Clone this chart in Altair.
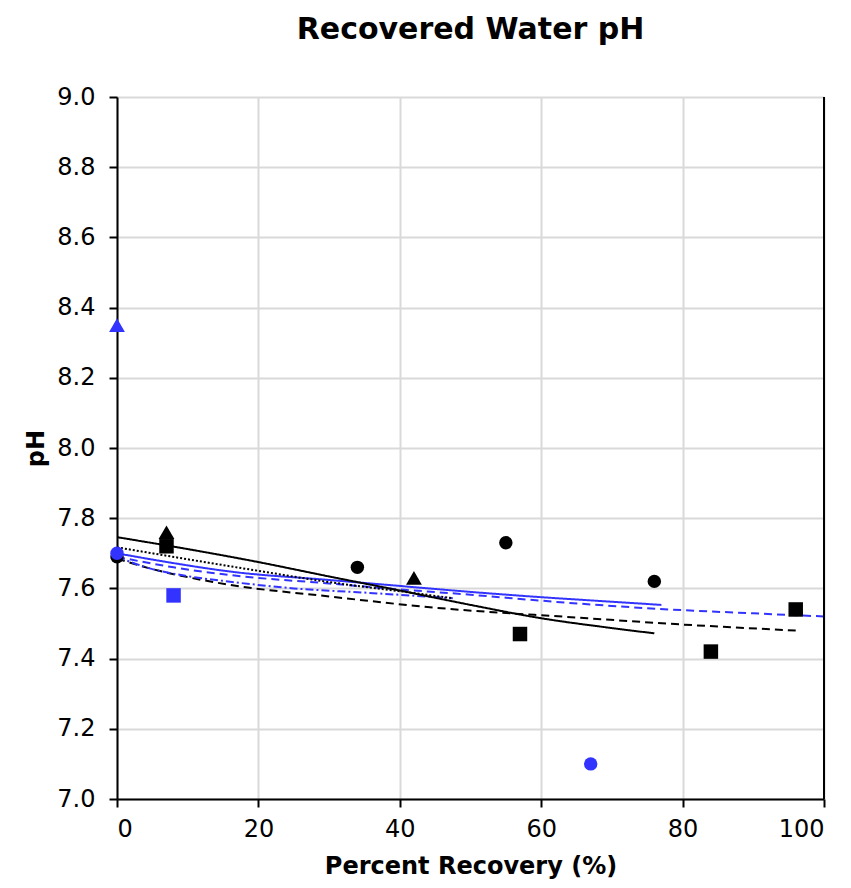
import altair as alt
import pandas as pd

# ---- scatter points ----
black_circle_x = [0, 34, 55, 76]
black_circle_y = [7.69, 7.66, 7.73, 7.62]
black_square_x = [7, 57, 84, 96]
black_square_y = [7.72, 7.47, 7.42, 7.54]
black_triangle_x = [7, 42]
black_triangle_y = [7.76, 7.63]
blue_circle_x = [0, 67]
blue_circle_y = [7.70, 7.10]
blue_square_x = [8]
blue_square_y = [7.58]
blue_triangle_x = [0]
blue_triangle_y = [8.35]

# ---- trend lines ----
black_solid_x = [0, 10, 20, 30, 40, 50, 60, 70, 76]
black_solid_y = [7.746, 7.712, 7.675, 7.634, 7.594, 7.553, 7.515, 7.487, 7.472]
black_dotted_x = [0, 10, 20, 30, 40, 47.5]
black_dotted_y = [7.717, 7.683, 7.650, 7.618, 7.592, 7.572]
black_dashed_x = [0, 5, 10, 16, 30, 45, 65, 80, 96]
black_dashed_y = [7.685, 7.655, 7.632, 7.610, 7.577, 7.545, 7.517, 7.497, 7.480]
blue_solid_x = [0, 8, 16, 30, 40, 50, 60, 70, 77]
blue_solid_y = [7.700, 7.672, 7.648, 7.624, 7.607, 7.590, 7.575, 7.562, 7.553]
blue_dashed_x = [0, 8, 16, 30, 40, 50, 60, 70, 80, 90, 100]
blue_dashed_y = [7.690, 7.660, 7.638, 7.614, 7.597, 7.582, 7.565, 7.550, 7.538, 7.529, 7.520]
blue_dashdot_x = [0, 5, 10, 16, 25, 35, 47.5]
blue_dashdot_y = [7.690, 7.655, 7.635, 7.619, 7.600, 7.588, 7.572]

x_ticks = [0, 20, 40, 60, 80, 100]
y_ticks = [7.0, 7.2, 7.4, 7.6, 7.8, 8.0, 8.2, 8.4, 8.6, 8.8, 9.0]

BLUE = "#3333FF"
BLACK = "#000000"
FONT = "DejaVu Sans"

x_scale = alt.Scale(domain=[0, 100], nice=False, zero=False)
y_scale = alt.Scale(domain=[7.0, 9.0], nice=False, zero=False)

x_axis = alt.Axis(
    values=x_ticks, title="Percent Recovery (%)",
    grid=True, gridColor="#d9d9d9", gridWidth=2,
    domainColor=BLACK, domainWidth=2, tickColor=BLACK, tickWidth=2, tickSize=8,
    labelFont=FONT, labelFontSize=24, labelColor=BLACK, labelPadding=10,
    titleFont=FONT, titleFontSize=24, titleFontWeight="bold", titleColor=BLACK,
    titlePadding=13,
)
y_axis = alt.Axis(
    values=y_ticks, format=".1f", title="pH",
    grid=True, gridColor="#d9d9d9", gridWidth=2,
    domainColor=BLACK, domainWidth=2, tickColor=BLACK, tickWidth=2, tickSize=8,
    labelFont=FONT, labelFontSize=24, labelColor=BLACK, labelPadding=14,
    titleFont=FONT, titleFontSize=24, titleFontWeight="bold", titleColor=BLACK,
    titlePadding=8,
)

X = lambda: alt.X("x:Q", scale=x_scale, axis=x_axis)
Y = lambda: alt.Y("y:Q", scale=y_scale, axis=y_axis)

def line_layer(xs, ys, color, dash):
    df = pd.DataFrame({"x": xs, "y": ys})
    return alt.Chart(df).mark_line(
        color=color, strokeWidth=2, strokeDash=dash, interpolate="monotone", clip=True
    ).encode(x=X(), y=Y())

def point_layer(xs, ys, color, shape, size):
    df = pd.DataFrame({"x": xs, "y": ys})
    return alt.Chart(df).mark_point(
        filled=True, opacity=1, color=color, shape=shape, size=size, strokeWidth=0
    ).encode(x=X(), y=Y())

lines = [
    line_layer(black_dashed_x, black_dashed_y, BLACK, [8, 5]),
    line_layer(blue_dashdot_x, blue_dashdot_y, BLUE, [8, 3, 2, 3]),
    line_layer(blue_dashed_x, blue_dashed_y, BLUE, [8, 5]),
    line_layer(blue_solid_x, blue_solid_y, BLUE, [1, 0]),
    line_layer(black_dotted_x, black_dotted_y, BLACK, [2, 2]),
    line_layer(black_solid_x, black_solid_y, BLACK, [1, 0]),
]

border = alt.Chart(pd.DataFrame({"x": [100]})).mark_rule(color=BLACK, strokeWidth=2).encode(
    x=X(), y=alt.value(0), y2=alt.value(702),
)

points = [
    point_layer(black_circle_x, black_circle_y, BLACK, "circle", 180),
    point_layer(black_square_x, black_square_y, BLACK, "square", 210),
    point_layer(black_triangle_x, black_triangle_y, BLACK, "triangle-up", 250),
    point_layer(blue_circle_x, blue_circle_y, BLUE, "circle", 180),
    point_layer(blue_square_x, blue_square_y, BLUE, "square", 210),
    point_layer(blue_triangle_x, blue_triangle_y, BLUE, "triangle-up", 250),
]

chart = alt.layer(*lines, border, *points).properties(
    width=707, height=702,
    title=alt.TitleParams(
        "Recovered Water pH", font=FONT, fontSize=30, fontWeight="bold",
        color=BLACK, anchor="middle", offset=40,
    ),
    autosize=alt.AutoSizeParams(type="none"),
    padding={"left": 109, "top": 89, "right": 19, "bottom": 81},
).configure_view(stroke=None).configure(background="white")

chart.save("out.html", embed_options={"renderer": "svg", "actions": False})
